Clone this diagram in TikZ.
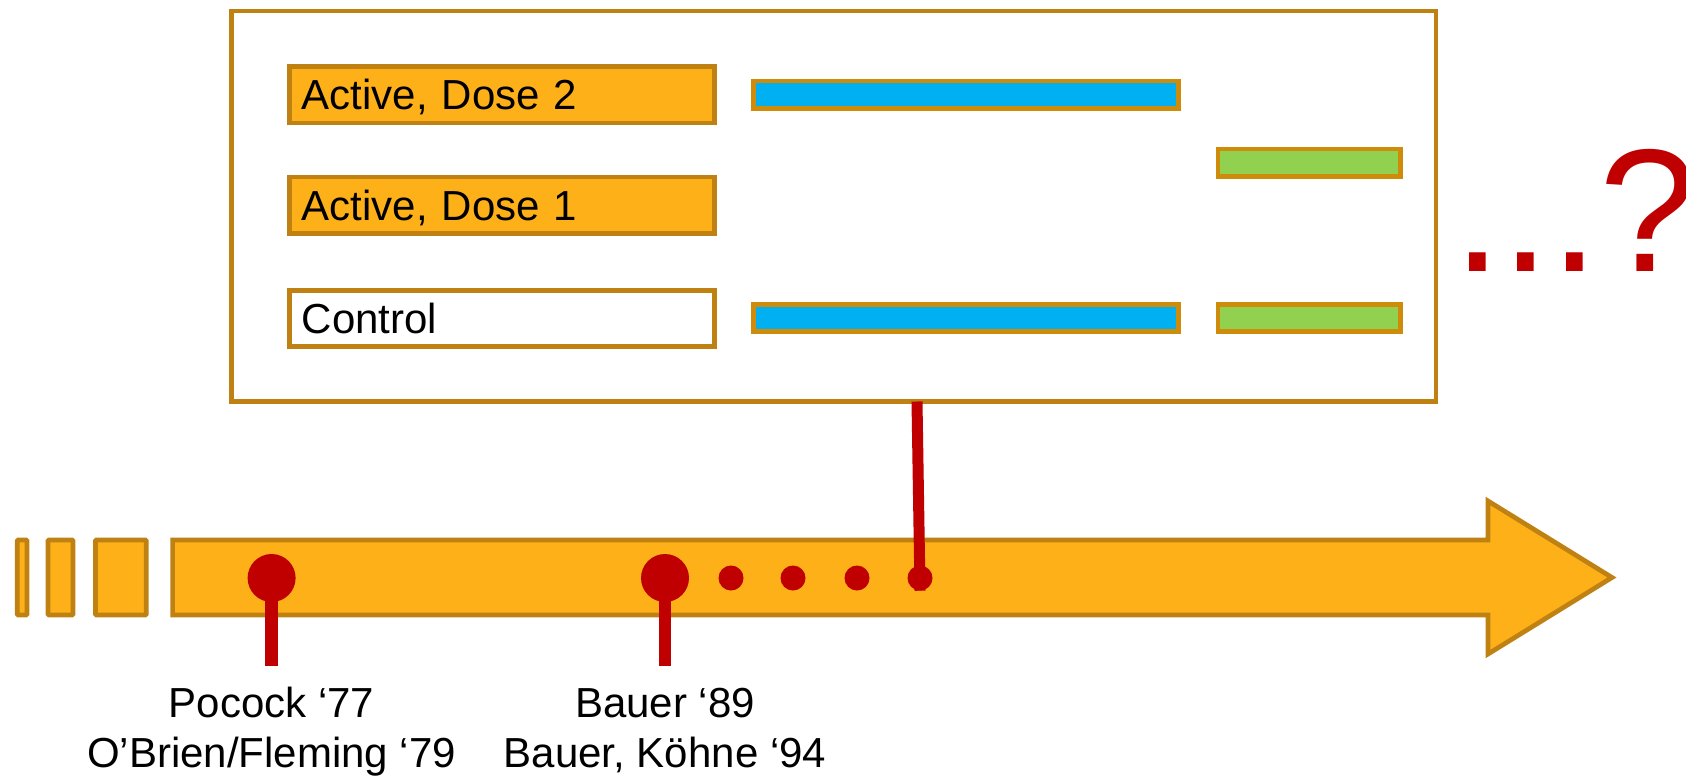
\documentclass[tikz,border=0pt]{standalone}
\usepackage{fontspec}
\setmainfont{Liberation Sans}
\definecolor{orf}{HTML}{FDB018}
\definecolor{orb}{HTML}{BF8212}
\definecolor{barb}{HTML}{CF8C0A}
\definecolor{rd}{HTML}{C00000}
\definecolor{bl}{HTML}{00B0F0}
\definecolor{gr}{HTML}{92D050}
\begin{document}
\begin{tikzpicture}[x=1pt,y=-1pt,
 goldline/.style={draw=orb, line width=4.7pt},
 labelbox/.style={goldline, rectangle, minimum width=425pt, minimum height=56.3pt,
   inner xsep=12.5pt, inner ysep=0pt, text width=400pt, align=left,
   text height=30.1pt, text depth=0pt, font=\fontsize{42}{50}\selectfont},
 barbox/.style={draw=barb, line width=4.5pt, rectangle, minimum height=27.3pt, inner sep=0pt},
 bigdot/.style={circle, fill=rd, minimum size=48pt, inner sep=0pt},
 smalldot/.style={circle, fill=rd, minimum size=25pt, inner sep=0pt},
 stemline/.style={draw=rd, line width=12.5pt},
 datelabel/.style={align=center, font=\fontsize{42}{50}\selectfont, anchor=base, inner sep=0pt},
]
\useasboundingbox (0,0) rectangle (1686,776);

% trial box
\node[goldline, rectangle, minimum width=1204.5pt, minimum height=390.5pt, inner sep=0pt, fill=white] (trial) at (833.75,206.25) {};

% arm labels
\node[labelbox, fill=orf] (dose2) at (501.75,94.85) {Active, Dose 2};
\node[labelbox, fill=orf] (dose1) at (501.75,205.15) {Active, Dose 1};
\node[labelbox, fill=white] (ctrl) at (501.75,318.35) {Control};

% bars
\node[barbox, fill=bl, minimum width=425.1pt] (blueA) at (965.85,94.65) {};
\node[barbox, fill=bl, minimum width=425.1pt] (blueB) at (965.85,318) {};
\node[barbox, fill=gr, minimum width=182.5pt] (greenA) at (1309.05,162.65) {};
\node[barbox, fill=gr, minimum width=182.5pt] (greenB) at (1309.05,318) {};

% timeline arrow
\draw[goldline, fill=orf, rounded corners=1pt] (17.2,540) rectangle (27,615);
\draw[goldline, fill=orf, rounded corners=1pt] (48,540) rectangle (73,615);
\draw[goldline, fill=orf, rounded corners=1pt] (95.4,540) rectangle (146.2,615);
\draw[goldline, fill=orf] (172.6,540) -- (1488,540) -- (1488,501) -- (1612,577.5)
  -- (1488,654) -- (1488,615) -- (172.6,615) -- cycle;

% milestones
\node[bigdot] (p1) at (271.6,578) {};
\node[bigdot] (p2) at (665,578) {};
\node[smalldot] (d1) at (731,578) {};
\node[smalldot] (d2) at (793,578) {};
\node[smalldot] (d3) at (857,578) {};
\node[smalldot] (d4) at (920,578) {};

\coordinate (p1end) at (271.6,666);
\coordinate (p2end) at (665,666);
\coordinate (ctop) at (917,401.5);
\draw[stemline] (p1.center) -- (p1end);
\draw[stemline] (p2.center) -- (p2end);
\draw[draw=rd, line width=11pt] (ctop) -- (d4.south);

% labels
\node[datelabel] (lab1) at (271.6,767) {Pocock ‘77\\O’Brien/Fleming ‘79};
\node[datelabel] (lab2) at (665,767) {Bauer ‘89\\Bauer, Köhne ‘94};

\node[anchor=base west, text=rd, font=\fontsize{175}{180}\selectfont, inner sep=0pt] (q) at (1453,271) {...?};
\end{tikzpicture}
\end{document}
